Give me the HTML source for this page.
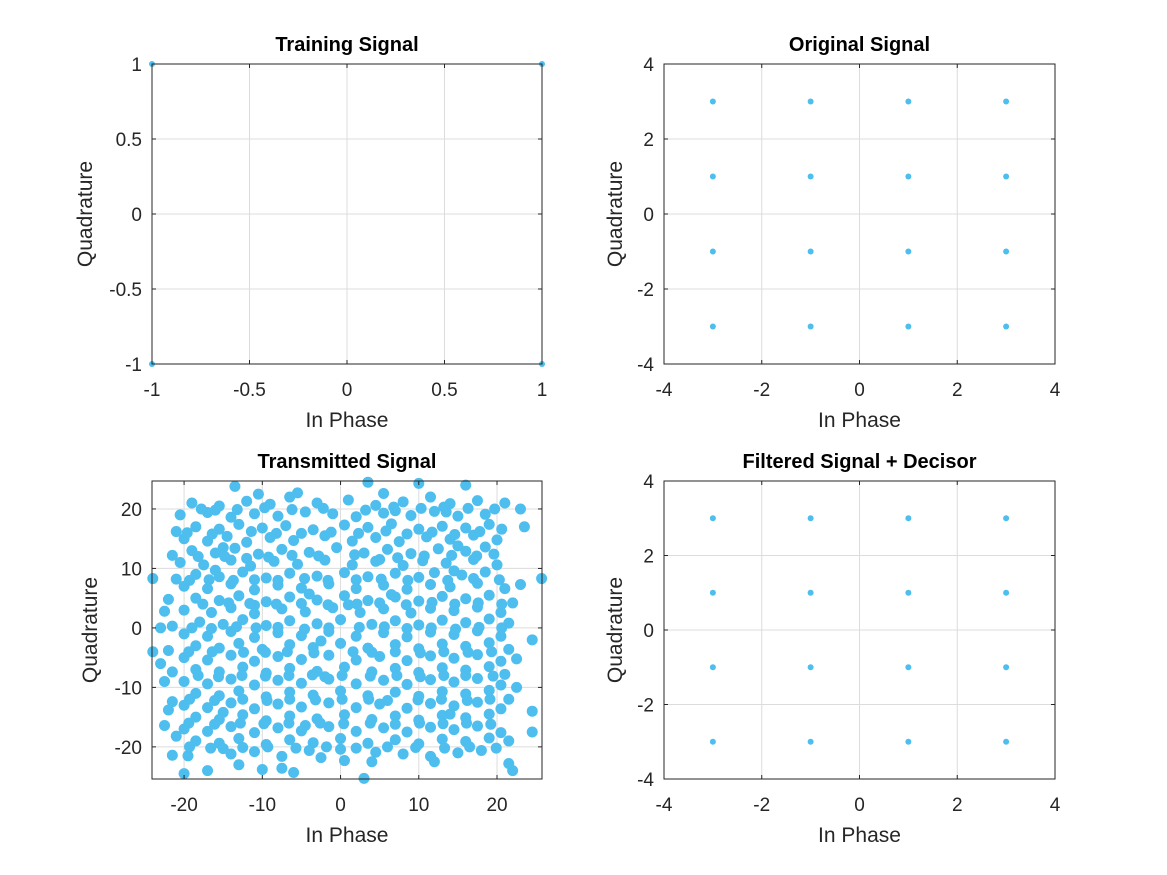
<!DOCTYPE html>
<html><head><meta charset="utf-8"><style>
html,body{margin:0;padding:0;background:#fff;}
svg{display:block;font-family:"Liberation Sans","DejaVu Sans",sans-serif;}
</style></head><body>
<svg id="fig" width="1167" height="875" viewBox="0 0 1167 875" xmlns="http://www.w3.org/2000/svg"></svg>
<script>
// ---- data ----
const trainI = [-1, 1, -1, 1];
const trainQ = [1, 1, -1, -1];
const qamLevels = [-3, -1, 1, 3];
const origTicks = [-4, -2, 0, 2, 4];
const trainTicks = [-1, -0.5, 0, 0.5, 1];
const txXTicks = [-20, -10, 0, 10, 20];
const txYTicks = [-20, -10, 0, 10, 20];
const txPoints = [
[-19,21],[-15.5,20.5],[-12,21.3],[-9,20.8],[-6.5,22],[-3,21],[1,21.5],[4.5,20.6],[8,21.2],[11.5,22],[14,20.9],[17.5,21.4],[21,21],[-10.5,22.5],[5.5,22.6],[-5.5,22.7],
[-20.5,19],[-17,19.4],[-14,18.6],[-11,19.2],[-8,18.8],[-4.5,19.5],[-1,19.2],[2,18.7],[5.5,19.3],[9,18.9],[12,19.6],[15,18.8],[18.5,19.1],[-16,19.8],[13.5,19.5],[7,19.7],
[-18.5,17],[-15.5,16.6],[-13,17.4],[-10,16.8],[-7,17.2],[-3.5,16.5],[0.5,17.3],[3.5,16.9],[6.5,17.5],[10,16.6],[13,17.1],[16,16.8],[19,17.4],[-21,16.2],[8.5,15.8],[-5,15.9],
[-20,15],[-17,14.6],[-14.5,15.4],[-12,14.4],[-9,15.2],[-6,14.7],[-2,15.5],[1.5,14.6],[4.5,15.2],[7.5,14.5],[11,15.3],[14,14.9],[17,15.6],[20,14.8],[-15,13.5],[15,13.8],
[-19,13],[-16,12.6],[-13.5,13.4],[-10.5,12.4],[-7.5,13.2],[-4,12.7],[-0.5,13.5],[3,12.6],[6,13.2],[9,12.5],[12.5,13.3],[16,12.9],[18.5,13.6],[-21.5,12.2],[-12,11.7],[5,11.5],
[-20.5,11],[-17.5,10.6],[-14,11.4],[-11.5,10.4],[-8.5,11.2],[-5.5,10.7],[-2,11.4],[1.5,10.6],[4.5,11.2],[8,10.5],[10.5,11.3],[13.5,10.9],[17,11.5],[20,10.6],[-16,9.7],[14.5,9.6],
[-18.5,9],[-15.5,8.6],[-12.5,9.4],[-9.5,8.4],[-6.5,9.2],[-3,8.7],[0.5,9.3],[3.5,8.6],[7,9.2],[10,8.5],[12,9.3],[15.5,8.9],[18.5,9.4],[-21,8.2],[-24,8.3],[25.7,8.3],
[-20,7],[-17,6.6],[-14,7.4],[-11,6.4],[-8,7.2],[-5,6.7],[-1.5,7.4],[2,6.6],[5.5,7.2],[8.5,6.5],[11.5,7.3],[14,6.9],[17.5,7.5],[21,6.6],[-4,5.7],[6.5,5.6],
[-18.5,5],[-15.5,4.6],[-13,5.4],[-9.5,4.4],[-6.5,5.2],[-3,4.7],[0.5,5.4],[3.5,4.6],[7,5.2],[10,4.5],[13,5.3],[16,4.9],[19,5.5],[-22,4.8],[22,4.2],[-11,3.8],
[-20,3],[-16.5,2.6],[-14,3.4],[-11,2.4],[-7.5,3.2],[-4.5,2.7],[-1,3.4],[2.5,2.6],[5.5,3.2],[9,2.5],[11.5,3.3],[14.5,2.9],[17.5,3.5],[20.5,2.6],[-22.5,2.8],[1,3.9],
[-18,1],[-15,0.6],[-12.5,1.4],[-9.5,0.4],[-6.5,1.2],[-3,0.7],[0,1.4],[4,0.6],[7,1.2],[10,0.5],[13,1.3],[16,0.9],[19,1.5],[-21.5,0.3],[-23,0],[21.5,0.8],
[-20,-1],[-17,-1.4],[-14,-0.6],[-11,-1.6],[-8,-0.8],[-5,-1.3],[-1.5,-0.6],[2,-1.4],[5.5,-0.8],[8.5,-1.5],[11.5,-0.7],[14.5,-1.1],[17.5,-0.5],[20.5,-1.4],[24.5,-2],[-2.5,-2.2],
[-18.5,-3],[-15.5,-3.4],[-13,-2.6],[-10,-3.6],[-6.5,-2.8],[-3.5,-3.3],[0,-2.6],[3.5,-3.4],[7,-2.8],[10,-3.5],[13,-2.7],[16,-3.1],[19,-2.5],[-22,-3.8],[-24,-4],[21.5,-3.6],
[-20,-5],[-17,-5.4],[-14,-4.6],[-11,-5.6],[-8,-4.8],[-5,-5.3],[-1.5,-4.6],[2,-5.4],[5,-4.8],[8.5,-5.5],[11.5,-4.7],[14.5,-5.1],[17.5,-4.5],[20.5,-5.6],[22.5,-5.2],[-23,-6],
[-18.5,-7],[-15.5,-7.4],[-12.5,-6.6],[-9.5,-7.6],[-6.5,-6.8],[-3,-7.3],[0.5,-6.6],[4,-7.4],[7,-6.8],[10,-7.5],[13,-6.7],[16,-7.1],[19,-6.5],[-21.5,-7.4],[21,-7.8],[-2,-8.2],
[-20,-9],[-17,-9.4],[-14,-8.6],[-11,-9.6],[-8,-8.8],[-5,-9.3],[-1.5,-8.6],[2,-9.4],[5.5,-8.8],[8.5,-9.5],[11.5,-8.7],[14.5,-9.1],[17.5,-8.5],[20.5,-9.6],[-22.5,-9],[22.5,-10],
[-18.5,-11],[-15.5,-11.4],[-13,-10.6],[-9.5,-11.6],[-6.5,-10.8],[-3.5,-11.3],[0,-10.6],[3.5,-11.4],[7,-10.8],[10,-11.5],[13,-10.7],[16,-11.1],[19,-10.5],[-21.5,-12.4],[21.5,-12],[6,-12.2],
[-20,-13],[-17,-13.4],[-14,-12.6],[-11,-13.6],[-8,-12.8],[-5,-13.3],[-1.5,-12.6],[2,-13.4],[5,-12.8],[8.5,-13.5],[11.5,-12.7],[14.5,-13.1],[17.5,-12.5],[20.5,-13.6],[-15,-14.2],[14,-14.5],
[-18.5,-15],[-15.5,-15.4],[-12.5,-14.6],[-9.5,-15.6],[-6.5,-14.8],[-3,-15.3],[0.5,-14.6],[4,-15.4],[7,-14.8],[10,-15.5],[13,-14.7],[16,-15.1],[19,-14.5],[-22,-13.8],[24.5,-14],[-4.5,-16.4],
[-20,-17],[-17,-17.4],[-14,-16.6],[-11,-17.6],[-8,-16.8],[-5,-17.3],[-1.5,-16.6],[2,-17.4],[5.5,-16.8],[8.5,-17.5],[11.5,-16.7],[14.5,-17.1],[17.5,-16.5],[20.5,-17.6],[-22.5,-16.4],[24.5,-17.5],
[-18.5,-19],[-15.5,-19.4],[-13,-18.6],[-9.5,-19.6],[-6.5,-18.8],[-3.5,-19.3],[0,-18.6],[3.5,-19.4],[7,-18.8],[10,-19.5],[13,-18.7],[16,-19.1],[19,-18.5],[-21,-18.2],[21.5,-19],[-15,-20.3],
[-19.5,-21.5],[-14,-21.2],[-11,-20.8],[-7.5,-21.6],[-4,-20.6],[0,-20.4],[4.5,-20.9],[8,-21.2],[11.5,-21.6],[15,-21],[18,-20.6],[-21.5,-21.4],[-2.5,-21.8],[12,-22.5],[0.5,-22.3],[-13,-23],
[3.5,24.5],[10,24.3],[16,24],[3,-25.3],[-20,-24.5],[-17,-24],[-10,-23.8],[-6,-24.3],[-7.5,-23.6],[22,-24],[21.5,-22.8],[4,-22.5],[23.5,17],[-13.5,23.8],[23,20],[23,7.3]
];
const txPointsB = [
[-17.8,20],[-13.2,19.9],[-9.7,20.2],[-6.2,19.9],[-2.2,20.1],[3.2,19.8],[6.8,20.3],[10.3,20.1],[13.2,20.3],[16.3,20.1],[19.7,20],
[-19.6,16],[-16.4,15.8],[-11.4,16.2],[-8.2,15.9],[-1.2,16.1],[2.3,15.9],[5.8,16.3],[11.7,16.1],[14.6,15.7],[17.8,16.2],[20.6,16.6],
[-18.2,12],[-14.8,12],[-9.2,11.9],[-6.2,12.2],[-2.8,12.1],[1.8,12.3],[7.3,11.8],[10.7,12.1],[14.2,12.2],[17.4,12.1],[19.6,12.4],
[-19.3,8],[-16.8,8.1],[-13.7,8],[-11,8.1],[-8,8],[-4.6,8.3],[-1.6,8],[2,8.1],[5.2,8.2],[8.6,8],[13.7,8],[17,8.3],[20.3,8.1],
[-17.6,4],[-14.3,4.2],[-11.6,4.1],[-8.2,4],[-5,4.1],[-1.6,3.9],[2.1,4],[5,4.2],[8.4,3.9],[11.7,4.3],[14.6,4],[17.6,4.2],[20.6,4],
[-19,0],[-16.5,-0.1],[-13.3,0.2],[-10.8,0],[-8,0.1],[-4.6,-0.2],[-1.5,0],[2.4,0.1],[5.6,0.2],[8.5,-0.1],[11.6,0],[14.7,-0.2],[17.7,0.1],[20.6,0],
[-19.4,-4],[-16.4,-4],[-12.4,-4.1],[-9.6,-4.1],[-6.8,-4],[-3.4,-4.2],[1.6,-4],[4,-4.1],[7,-4],[10.2,-4.2],[13.2,-4],[16.3,-4.1],[19.3,-4],
[-18.2,-8],[-15.6,-8.2],[-12.6,-8],[-9.6,-8.1],[-6.6,-8],[-3.6,-7.9],[0.2,-8],[3.8,-8.1],[7.2,-8],[10.2,-8.2],[13.2,-8],[16,-8],[19.5,-8.1],
[-19.3,-12],[-16.1,-12.2],[-12.5,-12],[-9.4,-12.2],[-6.5,-12],[-3.2,-12.1],[0.2,-12],[3.6,-12],[9.9,-12.1],[12.9,-12],[16.2,-12.2],[19.1,-12],
[-19.4,-16],[-16.1,-16.2],[-12.8,-16],[-9.8,-16.1],[-6.6,-16],[-2.6,-16],[0.4,-16.1],[3.8,-16],[7,-16.2],[10.1,-16],[13.1,-16.1],[16.1,-16],[19.2,-16.2],
[-19.3,-20],[-16.6,-20.2],[-12.5,-20.1],[-9.3,-20],[-5.7,-20.2],[-1.8,-20],[2,-20.2],[6,-20],[9.6,-20.1],[13.3,-20.2],[16.5,-20],[19.9,-20.2]
];

const NS='http://www.w3.org/2000/svg';
const svg=document.getElementById('fig');
function el(tag,attrs,parent){const e=document.createElementNS(NS,tag);for(const k in attrs)e.setAttribute(k,attrs[k]);(parent||svg).appendChild(e);return e;}
const BLUE='#4DBEEE';

function axes(o){
  const g=el('g',{});
  
  
  const sx=v=>o.x0+(v-o.xmin)/(o.xmax-o.xmin)*(o.x1-o.x0);
  const sy=v=>o.y1-(v-o.ymin)/(o.ymax-o.ymin)*(o.y1-o.y0);
  o.xt.forEach(t=>{const x=sx(t);const l=el('line',{x1:x,x2:x,y1:o.y0,y2:o.y1,stroke:'#dcdcdc','stroke-width':1},g);
    });
  o.yt.forEach(t=>{const y=sy(t);const l=el('line',{x1:o.x0,x2:o.x1,y1:y,y2:y,stroke:'#dcdcdc','stroke-width':1},g);
    });
  const pg=el('g',{fill:BLUE},g);
  
  
  o.pts.forEach(p=>{const c=el('circle',{cx:sx(p[0]),cy:sy(p[1]),r:o.r},pg);
    
    });
  const b=el('rect',{x:o.x0,y:o.y0,width:o.x1-o.x0,height:o.y1-o.y0,fill:'none',stroke:'#262626','stroke-width':1},g);
  
  o.xt.forEach((t,i)=>{const x=sx(t);
    el('line',{x1:x,x2:x,y1:o.y1,y2:o.y1-4,stroke:'#262626'},g);
    el('line',{x1:x,x2:x,y1:o.y0,y2:o.y0+4,stroke:'#262626'},g);
    const tx=el('text',{x:x,y:o.y1+32,'text-anchor':'middle','font-size':19,fill:'#262626'},g);
    tx.textContent=String(t);
    });
  o.yt.forEach((t,i)=>{const y=sy(t);
    el('line',{x1:o.x0,x2:o.x0+4,y1:y,y2:y,stroke:'#262626'},g);
    el('line',{x1:o.x1,x2:o.x1-4,y1:y,y2:y,stroke:'#262626'},g);
    const tx=el('text',{x:o.x0-10,y:y+7,'text-anchor':'end','font-size':19,fill:'#262626'},g);
    tx.textContent=String(t);
    });
  const ti=el('text',{x:(o.x0+o.x1)/2,y:o.y0-13,'text-anchor':'middle','font-size':20,'font-weight':'bold',fill:'#000'},g);
  ti.textContent=o.title;
  const xl=el('text',{x:(o.x0+o.x1)/2,y:o.y1+63,'text-anchor':'middle','font-size':21,fill:'#262626'},g);
  xl.textContent='In Phase';
  const cy=(o.y0+o.y1)/2;
  const yl=el('text',{x:o.ylx,y:cy,'text-anchor':'middle','font-size':21,fill:'#262626',transform:'rotate(-90 '+o.ylx+' '+cy+')'},g);
  yl.textContent='Quadrature';
}
const qamPts=[];qamLevels.forEach(i=>qamLevels.forEach(q=>qamPts.push([i,q])));
axes({name:'training-signal-plot',title:'Training Signal',x0:152,x1:542,y0:64,y1:364,xmin:-1,xmax:1,ymin:-1,ymax:1,
  xt:trainTicks,yt:trainTicks,pts:trainI.map((v,i)=>[v,trainQ[i]]),r:3,ylx:92});
axes({name:'original-signal-plot',title:'Original Signal',x0:664,x1:1055,y0:64,y1:364,xmin:-4,xmax:4,ymin:-4,ymax:4,
  xt:origTicks,yt:origTicks,pts:qamPts,r:3,ylx:622});
axes({name:'transmitted-signal-plot',title:'Transmitted Signal',x0:152,x1:542,y0:481,y1:779,xmin:-24.1,xmax:25.75,ymin:-25.4,ymax:24.7,
  xt:txXTicks,yt:txYTicks,pts:txPoints.concat(txPointsB),r:5.5,ylx:97});
axes({name:'filtered-signal-plot',title:'Filtered Signal + Decisor',x0:664,x1:1055,y0:481,y1:779,xmin:-4,xmax:4,ymin:-4,ymax:4,
  xt:origTicks,yt:origTicks,pts:qamPts,r:3,ylx:622});
</script>
</body></html>
